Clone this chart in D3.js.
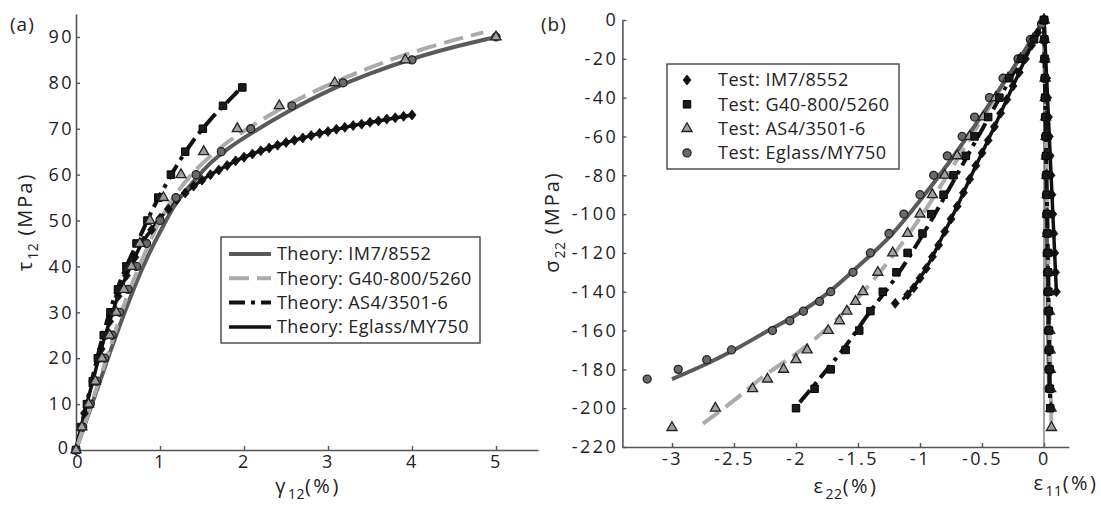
<!DOCTYPE html>
<html><head><meta charset="utf-8">
<script src="https://cdn.jsdelivr.net/npm/d3@7"></script>
<style>body{margin:0;background:#fff}svg{display:block}text{font-family:"Open Sans",sans-serif;fill:#222}</style>
</head><body><svg id="c" width="1101" height="506"></svg>
<script>
// ---------- Panel (a): shear response ----------
const aTicksX = [0,1,2,3,4,5];
const aTicksY = [0,10,20,30,40,50,60,70,80,90];
const aLegend = ["Theory: IM7/8552","Theory: G40-800/5260","Theory: AS4/3501-6","Theory: Eglass/MY750"];
// theory curves [gamma12 %, tau12 MPa]
const aTheoryIM7 = [[0,0],[0.2,10.5],[0.4,21],[0.6,31],[0.8,40],[1.0,47.5],[1.2,54],[1.4,58.5],[1.6,62.5],[1.8,65.5],[2.0,68],[2.5,73.5],[3.0,78.2],[3.5,82],[4.0,85.2],[4.5,87.8],[5.0,90]];
const aTheoryG40 = [[0,0],[0.2,11],[0.4,22],[0.6,33],[0.8,42],[1.0,50],[1.2,56],[1.4,60.5],[1.6,64],[1.8,67],[2.0,69.5],[2.5,75],[3.0,79.5],[3.5,83.3],[4.0,86.6],[4.5,89.3],[4.85,91]];
const aTheoryAS4 = [[0,0],[0.1,8],[0.2,16],[0.3,23.5],[0.4,30],[0.5,35.5],[0.6,40],[0.7,44],[0.8,48],[0.9,52],[1.0,55.5],[1.2,62],[1.4,67.5],[1.6,72],[1.8,75.8],[1.97,79]];
const aTheoryEglass = [[0,0],[0.1,8],[0.2,15],[0.3,22],[0.4,28],[0.5,33.5],[0.6,38],[0.7,42],[0.8,45.5],[0.9,48],[1.0,50.5],[1.2,54.5],[1.4,57.5],[1.6,60],[1.8,62],[2.0,63.8],[2.4,66.4],[2.8,68.5],[3.2,70.3],[3.6,71.7],[4.0,73]];
// test markers
const aTestDiamonds = [[0,0],[0.1,8],[0.2,15],[0.3,22],[0.4,28],[0.5,33.5],[0.6,38],[0.7,42],[0.8,45.5],[0.9,48],[1.0,50.5],[1.1,52.5],[1.2,54.5],[1.3,56],[1.4,57.5],[1.5,58.8],[1.6,60],[1.7,61],[1.8,62],[1.9,63],[2.0,63.8],[2.1,64.5],[2.2,65.2],[2.3,65.8],[2.4,66.4],[2.5,67],[2.6,67.5],[2.7,68],[2.8,68.5],[2.9,69],[3.0,69.4],[3.1,69.9],[3.2,70.3],[3.3,70.7],[3.4,71],[3.5,71.4],[3.6,71.7],[3.7,72.1],[3.8,72.4],[3.9,72.7],[4.0,73]];
const aTestSquares = [[0,0],[0.06,5],[0.13,10],[0.2,15],[0.26,20],[0.33,25],[0.41,30],[0.5,35],[0.6,40],[0.72,45],[0.85,50],[0.98,55],[1.13,60],[1.3,65],[1.51,70],[1.75,75],[1.98,79]];
const aTestTriangles = [[0,0],[0.07,5],[0.15,10],[0.23,15],[0.31,20],[0.4,25],[0.48,30],[0.57,35],[0.66,40],[0.76,45],[0.88,50],[1.04,55],[1.25,60],[1.52,65],[1.92,70],[2.42,75],[3.08,80],[3.92,85],[5.0,90]];
const aTestCircles = [[0,0],[0.08,5],[0.17,10],[0.25,15],[0.34,20],[0.43,25],[0.52,30],[0.62,35],[0.72,40],[0.84,45],[1.0,50],[1.19,55],[1.43,60],[1.73,65],[2.08,70],[2.57,75],[3.18,80],[4.0,85],[5.0,90]];

// ---------- Panel (b): transverse compression ----------
const bTicksX = [-3,-2.5,-2,-1.5,-1,-0.5,0];
const bTicksY = [0,-20,-40,-60,-80,-100,-120,-140,-160,-180,-200,-220];
const bLegend = ["Test: IM7/8552","Test: G40-800/5260","Test: AS4/3501-6","Test: Eglass/MY750"];
// theory curves [eps22 %, sigma22 MPa]
const bTheoryDarkGray = [[-3.0,-185],[-2.75,-178],[-2.5,-170],[-2.25,-161],[-2.0,-152],[-1.75,-141],[-1.5,-127],[-1.25,-112],[-1.0,-93],[-0.75,-72],[-0.5,-49],[-0.25,-25],[0,0]];
const bTheoryLightGray = [[-2.75,-208],[-2.5,-196],[-2.25,-183],[-2.0,-172],[-1.75,-159],[-1.5,-143],[-1.25,-124],[-1.0,-102],[-0.75,-77],[-0.5,-51],[-0.25,-25],[0,0]];
const bTheoryDashDot = [[-1.97,-197],[-1.8,-184],[-1.6,-168],[-1.4,-150],[-1.2,-133],[-1.0,-113],[-0.8,-91],[-0.6,-68],[-0.4,-45],[-0.2,-22],[0,0]];
const bTheoryBlack = [[-1.14,-144],[-1.1,-141.5],[-1.0,-133],[-0.9,-122],[-0.8,-109],[-0.7,-96],[-0.6,-82],[-0.5,-68.5],[-0.4,-55],[-0.3,-41],[-0.2,-27],[-0.1,-13],[0,0]];
// test markers eps22
const bTestIM7 = [[-1.2,-146],[-1.1,-141.5],[-1.05,-138],[-1.0,-133],[-0.95,-128],[-0.9,-122],[-0.85,-116],[-0.8,-109],[-0.75,-102.5],[-0.7,-96],[-0.65,-89],[-0.6,-82],[-0.55,-75],[-0.5,-68.5],[-0.45,-62],[-0.4,-55],[-0.35,-48],[-0.3,-41],[-0.25,-34],[-0.2,-27],[-0.15,-20],[-0.1,-13],[-0.05,-6.5],[0,0]];
const bTestG40 = [[0,0],[-0.08,-10],[-0.18,-20],[-0.28,-30],[-0.36,-40],[-0.45,-50],[-0.56,-60],[-0.63,-70],[-0.73,-80],[-0.81,-90],[-0.91,-100],[-0.98,-110],[-1.1,-120],[-1.19,-130],[-1.3,-140],[-1.4,-150],[-1.49,-160],[-1.6,-170],[-1.72,-180],[-1.85,-190],[-2.0,-200]];
const bTestAS4 = [[0,0],[-0.09,-10],[-0.19,-20],[-0.29,-30],[-0.39,-40],[-0.49,-50],[-0.6,-60],[-0.7,-70],[-0.8,-80],[-0.9,-90],[-1.0,-100],[-1.1,-110],[-1.22,-120],[-1.34,-130],[-1.46,-140],[-1.52,-145],[-1.59,-150],[-1.65,-155],[-1.74,-160],[-1.91,-170],[-2.0,-175],[-2.1,-180],[-2.23,-185],[-2.35,-190],[-2.65,-200],[-3.0,-210]];
const bTestEglass = [[-0.02,-2],[-0.11,-10],[-0.21,-20],[-0.33,-30],[-0.44,-40],[-0.56,-50],[-0.66,-60],[-0.78,-70],[-0.89,-80],[-1.0,-90],[-1.13,-100],[-1.25,-110],[-1.4,-120],[-1.54,-130],[-1.72,-140],[-1.81,-145],[-1.94,-150],[-2.05,-155],[-2.19,-160],[-2.52,-170],[-2.72,-175],[-2.95,-180],[-3.2,-185]];
// test markers eps11 (column at right)
const bAxialIM7 = [[0,0],[0.007,-10],[0.014,-20],[0.021,-30],[0.029,-40],[0.036,-50],[0.043,-60],[0.05,-70],[0.057,-80],[0.064,-90],[0.071,-100],[0.079,-110],[0.086,-120],[0.093,-130],[0.1,-140]];
const bAxialG40 = [[0,0],[0.003,-10],[0.005,-20],[0.008,-30],[0.01,-40],[0.013,-50],[0.015,-60],[0.018,-70],[0.02,-80],[0.023,-90],[0.025,-100],[0.028,-110],[0.03,-120],[0.033,-130],[0.035,-140],[0.038,-150],[0.04,-160],[0.043,-170],[0.045,-180],[0.048,-190],[0.05,-200]];
const bAxialAS4 = [[0,0],[0.003,-10],[0.006,-20],[0.009,-30],[0.011,-40],[0.014,-50],[0.017,-60],[0.02,-70],[0.023,-80],[0.026,-90],[0.029,-100],[0.031,-110],[0.034,-120],[0.037,-130],[0.04,-140],[0.043,-150],[0.046,-160],[0.049,-170],[0.051,-180],[0.054,-190],[0.057,-200],[0.06,-210]];
const bAxialEglass = [[0,0],[0.002,-10],[0.004,-20],[0.006,-30],[0.008,-40],[0.011,-50],[0.013,-60],[0.015,-70],[0.017,-80],[0.019,-90],[0.021,-100],[0.023,-110],[0.025,-120],[0.027,-130],[0.029,-140],[0.032,-150],[0.034,-160],[0.036,-170],[0.038,-180],[0.04,-190]];

// ---------- styles ----------
const COL_DARK = "#5a5a5a", COL_LIGHT = "#ababab", COL_BLACK = "#111", AX = "#555";
const lineStyles = {
  dark:  {stroke: COL_DARK,  width: 4,   dash: null},
  light: {stroke: COL_LIGHT, width: 4,   dash: "20,8"},
  dashdot:{stroke: COL_BLACK, width: 4,  dash: "16,6,4,6"},
  black: {stroke: COL_BLACK, width: 3.5, dash: null}
};

const svg = d3.select("#c");

function drawAxes(g, x, y, tx, ty, padX, padY){
  const ax = g.append("g").attr("class", "xaxis").attr("transform", `translate(0,${y.range()[0]})`)
    .call(d3.axisBottom(x).tickValues(tx).tickFormat(d => String(d)).tickSizeInner(-4).tickSizeOuter(0).tickPadding(padX));
  const ay = g.append("g").attr("class", "yaxis").attr("transform", `translate(${x.range()[0]},0)`)
    .call(d3.axisLeft(y).tickValues(ty).tickFormat(d => String(d)).tickSizeInner(-4).tickSizeOuter(0).tickPadding(padY));
  [ax, ay].forEach(a => {
    a.select(".domain").attr("stroke", AX).attr("stroke-width", 1.6);
    a.selectAll(".tick line").attr("stroke", AX).attr("stroke-width", 1.4);
    a.selectAll(".tick text").attr("font-size", 18).attr("font-family", "Open Sans")
      .attr("letter-spacing", 2.5).attr("fill", "#222");
  });
  return {ax, ay};
}

function drawLine(g, data, x, y, st){
  const line = d3.line().x(d => x(d[0])).y(d => y(d[1])).curve(d3.curveCatmullRom.alpha(0.5));
  g.append("path").datum(data).attr("d", line).attr("fill", "none")
    .attr("stroke", st.stroke).attr("stroke-width", st.width)
    .attr("stroke-dasharray", st.dash).attr("stroke-linecap", "butt");
}

const markerDefs = {
  diamond: {path: "M0,-5L4,0L0,5L-4,0Z", fill: "#111", stroke: "#111", sw: 0.8},
  square:  {path: d3.symbol(d3.symbolSquare, 56)(), fill: "#1a1a1a", stroke: "#000", sw: 1},
  triangle:{path: d3.symbol(d3.symbolTriangle, 44)(), fill: "#a0a0a0", stroke: "#222", sw: 1.3},
  circle:  {path: d3.symbol(d3.symbolCircle, 50)(), fill: "#6a6a6a", stroke: "#222", sw: 1.3}
};
function drawMarkers(g, data, x, y, type){
  const m = markerDefs[type];
  g.append("g").selectAll("path").data(data).join("path")
    .attr("d", m.path).attr("transform", d => `translate(${x(d[0])},${y(d[1])})`)
    .attr("fill", m.fill).attr("stroke", m.stroke).attr("stroke-width", m.sw);
}

function subLabel(parent, tx, ty, rot, base, sub, rest, ls){
  const t = parent.append("text")
    .attr("transform", `translate(${tx},${ty})` + (rot ? " rotate(-90)" : ""))
    .attr("text-anchor", "middle").attr("font-size", 20).attr("letter-spacing", ls);
  t.append("tspan").text(base);
  t.append("tspan").attr("font-size", 14).attr("letter-spacing", 0.5).attr("dy", 6).text(sub);
  t.append("tspan").attr("dy", -6).text(rest);
  return t;
}

// ================= Panel (a) =================
const xA = d3.scaleLinear().domain([0, 5.5]).range([76, 538]);
const yA = d3.scaleLinear().domain([0, 95]).range([450, 14]);
const gA = svg.append("g");
const axesA = drawAxes(gA, xA, yA, aTicksX, aTicksY, 5, 2);
// keep the two "0" labels at the corner apart
axesA.ay.selectAll(".tick text").filter(d => d === 0).attr("letter-spacing", 0).attr("x", -8).attr("dy", "0.2em");
axesA.ax.selectAll(".tick text").filter(d => d === 0).attr("letter-spacing", 0).attr("x", 1);

drawLine(gA, aTheoryEglass, xA, yA, lineStyles.black);
drawLine(gA, aTheoryAS4, xA, yA, lineStyles.dashdot);
drawLine(gA, aTheoryIM7, xA, yA, lineStyles.dark);
drawLine(gA, aTheoryG40, xA, yA, lineStyles.light);
drawMarkers(gA, aTestDiamonds, xA, yA, "diamond");
drawMarkers(gA, aTestSquares, xA, yA, "square");
drawMarkers(gA, aTestCircles, xA, yA, "circle");
drawMarkers(gA, aTestTriangles, xA, yA, "triangle");

// legend (a)
const legA = gA.append("g");
legA.append("rect").attr("x", 221).attr("y", 237).attr("width", 259).attr("height", 106)
  .attr("fill", "#fff").attr("stroke", "#444").attr("stroke-width", 1.4);
const aLegStyles = [lineStyles.dark, lineStyles.light, lineStyles.dashdot, lineStyles.black];
aLegend.forEach((t, i) => {
  const yy = 254 + i * 24.3;
  const st = aLegStyles[i];
  legA.append("line").attr("x1", 229).attr("x2", 271).attr("y1", yy).attr("y2", yy)
    .attr("stroke", st.stroke).attr("stroke-width", st.width).attr("stroke-dasharray", st.dash);
  legA.append("text").attr("x", 277).attr("y", yy).attr("dy", "0.36em").attr("font-size", 18)
    .attr("letter-spacing", 0.45).text(t);
});

// labels (a)
svg.append("text").attr("x", 10).attr("y", 31).attr("font-size", 19).attr("letter-spacing", 1).text("(a)");
subLabel(svg, 32, 222, true, "τ", "12", " (MPa)", 2);
subLabel(svg, 308, 493, false, "γ", "12", "(%)", 2.5);

// ================= Panel (b) =================
const xB = d3.scaleLinear().domain([-3.4, 0.2]).range([1044 - 3.4 * 124, 1044 + 0.2 * 124]);
const yB = d3.scaleLinear().domain([-220, 0]).range([447, 20]);
const gB = svg.append("g");
drawAxes(gB, xB, yB, bTicksX, bTicksY, 5, 4);
// zero divider line (eps11 axis)
gB.append("line").attr("x1", xB(0)).attr("x2", xB(0)).attr("y1", yB(0)).attr("y2", yB(-220))
  .attr("stroke", "#666").attr("stroke-width", 1.2);

drawLine(gB, bTheoryBlack, xB, yB, lineStyles.black);
drawLine(gB, bTheoryDashDot, xB, yB, lineStyles.dashdot);
drawLine(gB, bTheoryLightGray, xB, yB, lineStyles.light);
drawLine(gB, bTheoryDarkGray, xB, yB, lineStyles.dark);
// eps11 column lines
drawLine(gB, [bAxialEglass[0], bAxialEglass[bAxialEglass.length-1]], xB, yB, lineStyles.dark);
drawLine(gB, [bAxialAS4[0], bAxialAS4[bAxialAS4.length-1]], xB, yB, lineStyles.light);
drawLine(gB, [bAxialG40[0], bAxialG40[bAxialG40.length-1]], xB, yB, lineStyles.dashdot);
drawLine(gB, [bAxialIM7[0], bAxialIM7[bAxialIM7.length-1]], xB, yB, lineStyles.black);

drawMarkers(gB, bTestEglass, xB, yB, "circle");
drawMarkers(gB, bTestAS4, xB, yB, "triangle");
drawMarkers(gB, bTestG40, xB, yB, "square");
drawMarkers(gB, bTestIM7, xB, yB, "diamond");
drawMarkers(gB, bAxialEglass, xB, yB, "circle");
drawMarkers(gB, bAxialAS4, xB, yB, "triangle");
drawMarkers(gB, bAxialG40, xB, yB, "square");
drawMarkers(gB, bAxialIM7, xB, yB, "diamond");

// legend (b)
const legB = gB.append("g");
legB.append("rect").attr("x", 667).attr("y", 64).attr("width", 232).attr("height", 105)
  .attr("fill", "#fff").attr("stroke", "#444").attr("stroke-width", 1.4);
const bLegMarkers = ["diamond", "square", "triangle", "circle"];
bLegend.forEach((t, i) => {
  const yy = 80 + i * 24.3;
  const m = markerDefs[bLegMarkers[i]];
  legB.append("path").attr("d", m.path).attr("transform", `translate(687,${yy})`)
    .attr("fill", m.fill).attr("stroke", m.stroke).attr("stroke-width", m.sw);
  legB.append("text").attr("x", 718).attr("y", yy).attr("dy", "0.36em").attr("font-size", 18)
    .attr("letter-spacing", 0.5).text(t);
});

// labels (b)
svg.append("text").attr("x", 541).attr("y", 31).attr("font-size", 19).attr("letter-spacing", 1).text("(b)");
subLabel(svg, 559, 222, true, "σ", "22", " (MPa)", 2);
subLabel(svg, 846, 493, false, "ε", "22", "(%)", 2.5);
subLabel(svg, 1066, 490, false, "ε", "11", "(%)", 2.5);
</script></body></html>
